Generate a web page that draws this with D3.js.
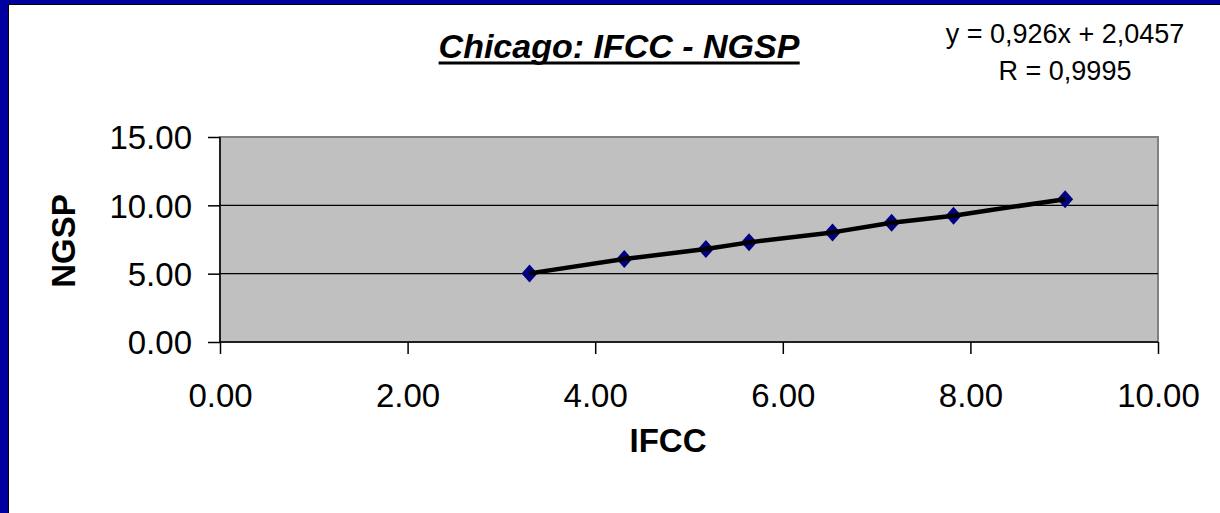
<!DOCTYPE html>
<html><head><meta charset="utf-8">
<script src="https://cdn.jsdelivr.net/npm/d3@7"></script>
<style>html,body{margin:0;padding:0;background:#fff;overflow:hidden}svg{display:block}</style>
</head><body>
<script>
const titleText = "Chicago: IFCC - NGSP";
const eqLines = ["y = 0,926x + 2,0457", "R = 0,9995"];
const xLabel = "IFCC", yLabel = "NGSP";
const xTicks = [0, 2, 4, 6, 8, 10];
const yTicks = [0, 5, 10, 15];
const ifcc = [3.30, 4.31, 5.18, 5.64, 6.53, 7.16, 7.82, 9.01];
const ngsp = [5.02, 6.07, 6.80, 7.29, 8.02, 8.73, 9.24, 10.44];
const lineX = [3.30, 4.31, 5.18, 5.64, 6.53, 7.16, 7.82, 8.22, 9.01];
const lineY = [5.02, 6.07, 6.80, 7.29, 8.02, 8.73, 9.24, 9.66, 10.44];

const W = 1220, H = 513;
const svg = d3.select("body").append("svg").attr("width", W).attr("height", H);
const font = "'Liberation Sans', Arial, sans-serif";

// frame
svg.append("rect").attr("width", W).attr("height", H).attr("fill", "#0000A0");
svg.append("rect").attr("x", 8.5).attr("y", 4.5).attr("width", W + 10).attr("height", H + 10)
  .attr("fill", "#fff").attr("stroke", "#000").attr("stroke-width", 1);

const x = d3.scaleLinear().domain([0, 10]).range([220, 1158]);
const y = d3.scaleLinear().domain([0, 15]).range([342, 137]);

// plot area
svg.append("rect").attr("x", x(0)).attr("y", y(15)).attr("width", x(10) - x(0)).attr("height", y(0) - y(15))
  .attr("fill", "#C0C0C0").attr("stroke", "#808080").attr("stroke-width", 2);

// gridlines
svg.append("g").selectAll("line").data(yTicks.filter(d => d > 0 && d < 15)).join("line")
  .attr("x1", x(0)).attr("x2", x(10)).attr("y1", d => y(d)).attr("y2", d => y(d))
  .attr("stroke", "#000").attr("stroke-width", 1.3);

// axes
const yAxis = svg.append("g").attr("transform", `translate(${x(0)},0)`)
  .call(d3.axisLeft(y).tickValues(yTicks).tickFormat(d3.format(".2f")).tickSize(12).tickPadding(16));
const xAxis = svg.append("g").attr("transform", `translate(0,${y(0)})`)
  .call(d3.axisBottom(x).tickValues(xTicks).tickFormat(d3.format(".2f")).tickSize(12).tickPadding(30));
[yAxis, xAxis].forEach(a => {
  a.select(".domain").attr("stroke", "#000").attr("stroke-width", 1.5);
  a.selectAll(".tick line").attr("stroke", "#000").attr("stroke-width", 1.5);
  a.selectAll("text").attr("font-family", font).attr("font-size", 33).attr("fill", "#000");
});
xAxis.select(".domain").attr("d", `M${x(0)},0H${x(10)}`);
yAxis.select(".domain").attr("d", `M0,${y(0)}V${y(15)}`);
yAxis.selectAll("text").attr("dy", "0.36em");

// markers
const pts = ifcc.map((v, i) => [v, ngsp[i]]);
svg.append("g").selectAll("path").data(pts).join("path")
  .attr("transform", d => `translate(${x(d[0])},${y(d[1])})`)
  .attr("d", "M0,-9L8,0L0,9L-8,0Z")
  .attr("fill", "#000080");

// line
const lp = lineX.map((v, i) => [v, lineY[i]]);
svg.append("path").datum(lp)
  .attr("d", d3.line().x(d => x(d[0])).y(d => y(d[1])))
  .attr("fill", "none").attr("stroke", "#000").attr("stroke-width", 4.5).attr("stroke-linejoin", "round");

// title
const t = svg.append("text").attr("x", 619).attr("y", 58).attr("text-anchor", "middle")
  .attr("font-family", font).attr("font-size", 34).attr("font-weight", "bold").attr("font-style", "italic")
  .text(titleText);
const bb = t.node().getBBox();
svg.append("line").attr("x1", bb.x).attr("x2", bb.x + bb.width).attr("y1", 63).attr("y2", 63)
  .attr("stroke", "#000").attr("stroke-width", 3);

// equation
svg.append("g").selectAll("text").data(eqLines).join("text")
  .attr("x", 1065).attr("y", (d, i) => 43 + i * 37).attr("text-anchor", "middle")
  .attr("font-family", font).attr("font-size", 27).attr("fill", "#000")
  .text(d => d);

// axis titles
svg.append("text").attr("x", 668).attr("y", 452).attr("text-anchor", "middle")
  .attr("font-family", font).attr("font-size", 33).attr("font-weight", "bold").text(xLabel);
svg.append("text").attr("transform", "translate(75,241) rotate(-90)").attr("text-anchor", "middle")
  .attr("font-family", font).attr("font-size", 33).attr("font-weight", "bold").text(yLabel);
</script>
</body></html>
